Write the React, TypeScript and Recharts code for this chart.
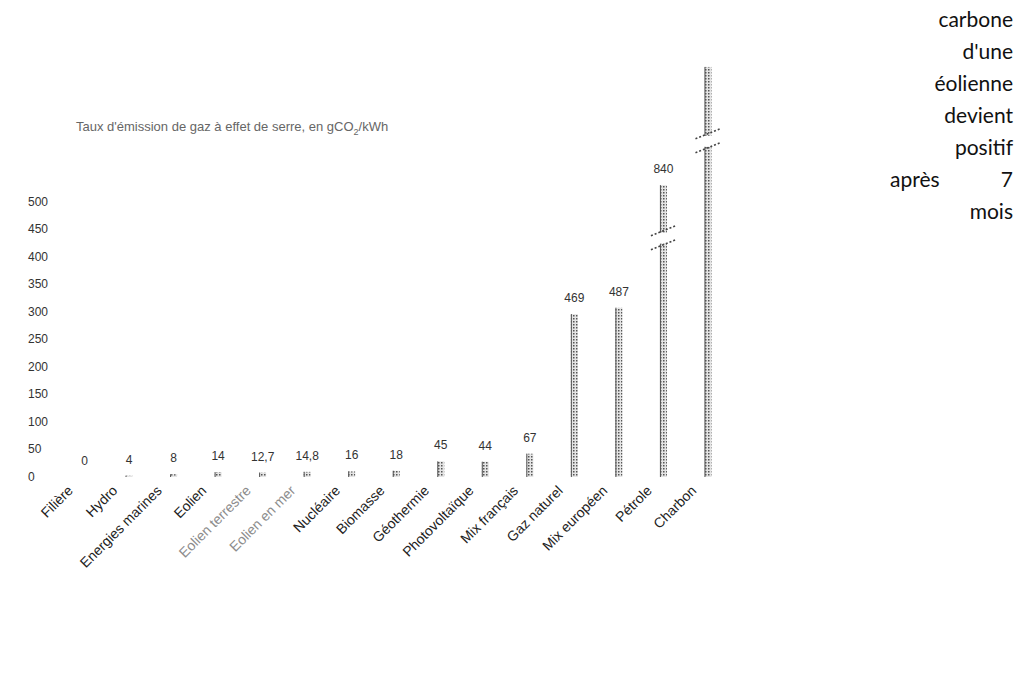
import { BarChart, Bar, XAxis, YAxis, LabelList } from 'recharts'

// émissions de GES par filière, gCO2/kWh
const categories = [
  'Filière', 'Hydro', 'Energies marines', 'Eolien', 'Eolien terrestre', 'Eolien en mer',
  'Nucléaire', 'Biomasse', 'Géothermie', 'Photovoltaïque', 'Mix français', 'Gaz naturel',
  'Mix européen', 'Pétrole', 'Charbon',
]
const emissions = [0, 4, 8, 14, 12.7, 14.8, 16, 18, 45, 44, 67, 469, 487, 840, 1180]
const yTicks = [0, 50, 100, 150, 200, 250, 300, 350, 400, 450, 500]
const highlighted = ['Eolien terrestre', 'Eolien en mer']
const brokenBars = ['Pétrole', 'Charbon']
const hiddenLabels = ['Charbon']
const sideText = ['carbone', "d'une", 'éolienne', 'devient', 'positif']

const data = categories.map((name, i) => ({ name, value: emissions[i] }))

function CategoryTick({ x, y, payload }: any) {
  const light = highlighted.includes(payload.value)
  return (
    <g transform={`translate(${x - 14}, ${y + 3}) rotate(-45)`}>
      <text x={0} y={0} dy="0.35em" textAnchor="end" fontSize={14} fill={light ? '#8c8c8c' : '#222'}>
        {payload.value}
      </text>
    </g>
  )
}

function ScaleTick({ y, payload }: any) {
  return (
    <text x={28} y={y} dy={4} textAnchor="start" fontSize={12} fill="#333">
      {payload.value}
    </text>
  )
}

function StippleBar(props: any) {
  const { x, y, width, height, payload } = props
  if (!height || height <= 0) return null
  const broken = brokenBars.includes(payload.name)
  const by = y + height * 0.18
  return (
    <g>
      <rect x={x} y={y} width={width} height={height} fill="url(#stipple)" />
      <line x1={x + 0.5} y1={y} x2={x + 0.5} y2={y + height} stroke="#555" strokeWidth={1} />
      {broken && (
        <g>
          <rect x={x - 1} y={by - 5} width={width + 2} height={11} fill="#fff" />
          <line x1={x - 9} y1={by - 2} x2={x + width + 9} y2={by - 12} stroke="#444" strokeWidth={1.6} strokeDasharray="2 2" />
          <line x1={x - 9} y1={by + 12} x2={x + width + 9} y2={by + 2} stroke="#444" strokeWidth={1.6} strokeDasharray="2 2" />
        </g>
      )}
    </g>
  )
}

function ValueLabel(props: any) {
  const { x, y, width, value, index } = props
  if (hiddenLabels.includes(categories[index])) return null
  return (
    <text x={x + width / 2} y={y - 12} textAnchor="middle" fontSize={12} fill="#333">
      {String(value).replace('.', ',')}
    </text>
  )
}

export default function App() {
  return (
    <div style={{ position: 'absolute', left: 0, top: 0, width: 1034, height: 681, background: '#fff', fontFamily: 'Liberation Sans, Arial, sans-serif' }}>
      <BarChart width={1034} height={681} data={data} margin={{ top: 60, right: 304, bottom: 0, left: 0 }}>
        <defs>
          <pattern id="stipple" width="3" height="3" patternUnits="userSpaceOnUse">
            <rect width="3" height="3" fill="#e4e4e4" />
            <rect x="0" y="0" width="1.5" height="1.5" fill="#555" />
          </pattern>
        </defs>
        <XAxis dataKey="name" interval={0} height={204} axisLine={false} tickLine={false} tick={<CategoryTick />} />
        <YAxis yAxisId="scale" type="number" domain={[0, 758]} allowDataOverflow ticks={yTicks} width={62} axisLine={false} tickLine={false} tick={<ScaleTick />} />
        <YAxis yAxisId="bars" type="number" domain={[0, 1200]} allowDataOverflow hide />
        <Bar yAxisId="bars" dataKey="value" barSize={7} shape={<StippleBar />} isAnimationActive={false}>
          <LabelList dataKey="value" content={<ValueLabel />} />
        </Bar>
      </BarChart>
      <div style={{ position: 'absolute', left: 76, top: 119, fontSize: 13, color: '#666', whiteSpace: 'nowrap' }}>
        Taux d'émission de gaz à effet de serre, en gCO<sub style={{ fontSize: 9 }}>2</sub>/kWh
      </div>
      <div style={{ position: 'absolute', left: 890, top: 3, width: 123, fontFamily: 'Lato, sans-serif', fontSize: 21, lineHeight: '32px', color: '#111', textAlign: 'right' }}>
        {sideText.map(t => <div key={t}>{t}</div>)}
        <div style={{ display: 'flex', justifyContent: 'space-between' }}><span>après</span><span>7</span></div>
        <div>mois</div>
      </div>
    </div>
  )
}
